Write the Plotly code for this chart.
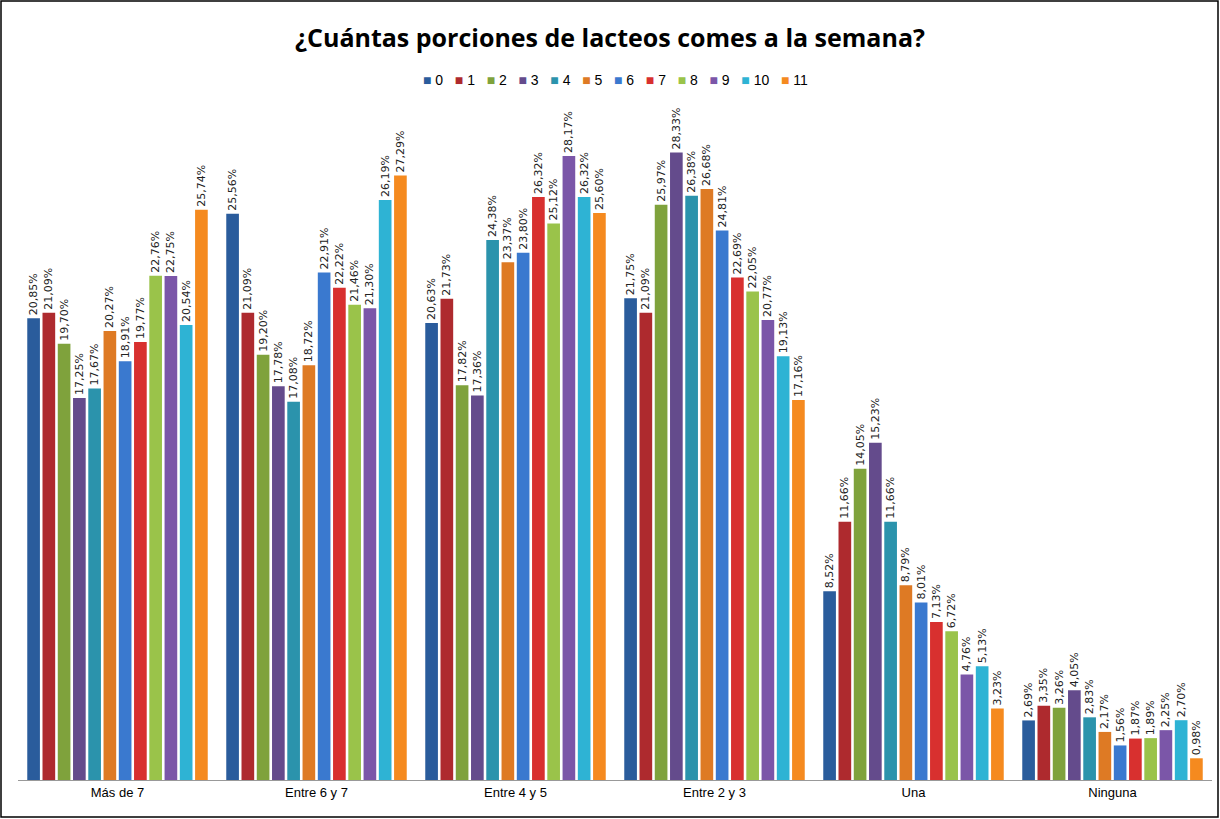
import plotly.graph_objects as go

categories = ['Más de 7', 'Entre 6 y 7', 'Entre 4 y 5', 'Entre 2 y 3', 'Una', 'Ninguna']
series_names = ['0', '1', '2', '3', '4', '5', '6', '7', '8', '9', '10', '11']

# values per series (one list per series, across categories)
s0 = [20.85, 25.56, 20.63, 21.75, 8.52, 2.69]
s1 = [21.09, 21.09, 21.73, 21.09, 11.66, 3.35]
s2 = [19.70, 19.20, 17.82, 25.97, 14.05, 3.26]
s3 = [17.25, 17.78, 17.36, 28.33, 15.23, 4.05]
s4 = [17.67, 17.08, 24.38, 26.38, 11.66, 2.83]
s5 = [20.27, 18.72, 23.37, 26.68, 8.79, 2.17]
s6 = [18.91, 22.91, 23.80, 24.81, 8.01, 1.56]
s7 = [19.77, 22.22, 26.32, 22.69, 7.13, 1.87]
s8 = [22.76, 21.46, 25.12, 22.05, 6.72, 1.89]
s9 = [22.75, 21.30, 28.17, 20.77, 4.76, 2.25]
s10 = [20.54, 26.19, 26.32, 19.13, 5.13, 2.70]
s11 = [25.74, 27.29, 25.60, 17.16, 3.23, 0.98]
values = [s0, s1, s2, s3, s4, s5, s6, s7, s8, s9, s10, s11]

colors = ['#2A5C9C', '#AE2A2E', '#7FA23C', '#644B8C', '#2B93AC', '#DE7A24',
          '#3A79CF', '#D8302F', '#9AC34A', '#7B56A8', '#2EB3D4', '#F58A1F']

fig = go.Figure()
for name, vals, col in zip(series_names, values, colors):
    fig.add_trace(go.Bar(
        x=categories,
        y=vals,
        name=name,
        marker=dict(color=col, line=dict(width=0)),
        text=[('%.2f%%' % v).replace('.', ',') for v in vals],
        textposition='outside',
        textangle=-90,
        constraintext='none',
        cliponaxis=False,
        textfont=dict(family='DejaVu Sans', size=11, color='#222222'),
    ))

L, R, T, B = 18, 8, 100, 39
W, H = 1220, 819
pw = W - L - R
ph = H - T - B

# compact legend, like the original (square + label)
legend_text = '&nbsp;&nbsp;&nbsp;'.join(
    "<span style='color:%s'>■</span>&nbsp;%s" % (c, n) for n, c in zip(series_names, colors))

fig.update_layout(
    width=W,
    height=H,
    barmode='group',
    bargap=0.08,
    bargroupgap=0.17,
    showlegend=False,
    plot_bgcolor='white',
    paper_bgcolor='white',
    margin=dict(l=L, r=R, t=T, b=B),
    title=dict(text='<b>¿Cuántas porciones de lacteos comes a la semana?</b>',
               x=0.5, xanchor='center', y=1 - 38 / H, yanchor='middle',
               font=dict(family='Open Sans', size=25, color='black')),
    annotations=[dict(text=legend_text, xref='paper', yref='paper',
                      x=0.5, xanchor='center', y=1 + 20 / ph, yanchor='middle',
                      showarrow=False,
                      font=dict(family='Liberation Sans', size=14, color='black'))],
    xaxis=dict(showgrid=False, showline=True, linecolor='#999999', linewidth=1,
               ticks='', tickfont=dict(family='Liberation Sans', size=13, color='black')),
    yaxis=dict(range=[0, ph / 22.15], showgrid=False, showticklabels=False,
               zeroline=False, showline=False, ticks=''),
    shapes=[dict(type='rect', xref='paper', yref='paper',
                 x0=-(L - 1) / pw, x1=1 + (R - 2) / pw,
                 y0=-(B - 2) / ph, y1=1 + (T - 1) / ph,
                 line=dict(color='black', width=1.5), fillcolor='rgba(0,0,0,0)')],
)

fig.write_html('out.html', config={'displayModeBar': False},
               post_script="document.body.style.margin='0';")
